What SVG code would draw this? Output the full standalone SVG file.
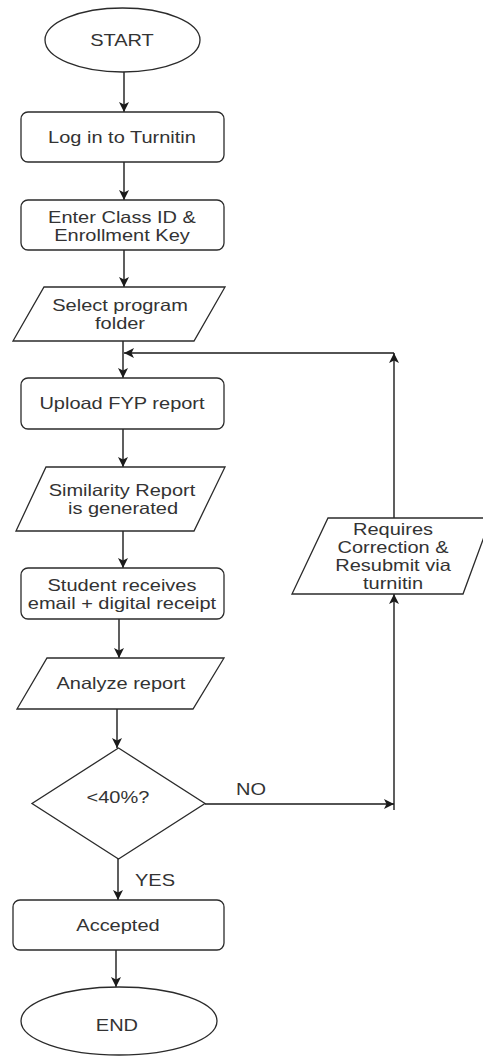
<svg xmlns="http://www.w3.org/2000/svg" width="483" height="1063" viewBox="0 0 483 1063">
<defs>
<marker id="arr" viewBox="0 0 10 10" refX="10" refY="5" markerWidth="10" markerHeight="10" markerUnits="userSpaceOnUse" orient="auto">
<path d="M0,0 L10,5 L0,10 L2.5,5 z" fill="#1a1a1a"/>
</marker>
<style>
.shape{fill:#ffffff;stroke:#2b2b2b;stroke-width:1.3}
.edge{fill:none;stroke:#1a1a1a;stroke-width:1.4}
text{font-family:"Liberation Sans",Arial,sans-serif;font-size:16.3px;fill:#333333;text-anchor:middle}
</style>
</defs>
<rect width="483" height="1063" fill="#ffffff"/>
<g id="connectors">
<line class="edge" x1="124" y1="72" x2="124" y2="112" marker-end="url(#arr)"/>
<line class="edge" x1="124" y1="162" x2="124" y2="200" marker-end="url(#arr)"/>
<line class="edge" x1="124" y1="250" x2="124" y2="287" marker-end="url(#arr)"/>
<line class="edge" x1="123" y1="341" x2="123" y2="378" marker-end="url(#arr)"/>
<line class="edge" x1="123" y1="429" x2="123" y2="467" marker-end="url(#arr)"/>
<line class="edge" x1="123" y1="531" x2="123" y2="568" marker-end="url(#arr)"/>
<line class="edge" x1="119" y1="619" x2="119" y2="658" marker-end="url(#arr)"/>
<line class="edge" x1="117" y1="709" x2="117" y2="748" marker-end="url(#arr)"/>
<line class="edge" x1="118" y1="859" x2="118" y2="900" marker-end="url(#arr)"/>
<line class="edge" x1="116" y1="950" x2="116" y2="987" marker-end="url(#arr)"/>
<line class="edge" x1="205" y1="804" x2="394" y2="804" marker-end="url(#arr)"/>
<line class="edge" x1="394" y1="810" x2="394" y2="594" marker-end="url(#arr)"/>
<line class="edge" x1="394" y1="518" x2="394" y2="353" marker-end="url(#arr)"/>
<line class="edge" x1="394" y1="353" x2="124" y2="353" marker-end="url(#arr)"/>
<text x="251" y="795" transform="matrix(1.227 0 0 1 -57 0)">NO</text>
<text x="155" y="886" transform="matrix(1.227 0 0 1 -35.2 0)">YES</text>
</g>
<g id="start">
<ellipse class="shape" cx="122.5" cy="40" rx="77.5" ry="32"/>
<text x="122" y="46" transform="matrix(1.227 0 0 1 -27.7 0)">START</text>
</g>
<g id="login">
<rect class="shape" x="21" y="112" width="203" height="50" rx="7"/>
<text x="122" y="143" transform="matrix(1.227 0 0 1 -27.7 0)">Log in to Turnitin</text>
</g>
<g id="enter">
<rect class="shape" x="21" y="200" width="203" height="50" rx="7"/>
<text x="122" y="223" transform="matrix(1.227 0 0 1 -27.7 0)">Enter Class ID &amp;</text>
<text x="122" y="241" transform="matrix(1.227 0 0 1 -27.7 0)">Enrollment Key</text>
</g>
<g id="select">
<polygon class="shape" points="44,287 225,287 194,341 13,341"/>
<text x="120" y="311" transform="matrix(1.227 0 0 1 -27.2 0)">Select program</text>
<text x="120" y="329" transform="matrix(1.227 0 0 1 -27.2 0)">folder</text>
</g>
<g id="upload">
<rect class="shape" x="21" y="378" width="203" height="51" rx="7"/>
<text x="122" y="409" transform="matrix(1.227 0 0 1 -27.7 0)">Upload FYP report</text>
</g>
<g id="similarity">
<polygon class="shape" points="46,467 225,467 194,531 16,531"/>
<text x="122" y="496" transform="matrix(1.227 0 0 1 -27.7 0)">Similarity Report</text>
<text x="123" y="514" transform="matrix(1.227 0 0 1 -27.9 0)">is generated</text>
</g>
<g id="student">
<rect class="shape" x="21" y="568" width="203" height="51" rx="7"/>
<text x="122" y="591" transform="matrix(1.227 0 0 1 -27.7 0)">Student receives</text>
<text x="122" y="609" transform="matrix(1.227 0 0 1 -27.7 0)">email + digital receipt</text>
</g>
<g id="analyze">
<polygon class="shape" points="47,658 224,658 193,709 17,709"/>
<text x="121" y="689" transform="matrix(1.227 0 0 1 -27.5 0)">Analyze report</text>
</g>
<g id="decision">
<polygon class="shape" points="118.5,748 205,803.5 118.5,859 32,803.5"/>
<text x="118" y="803" transform="matrix(1.227 0 0 1 -26.8 0)">&lt;40%?</text>
</g>
<g id="accepted">
<rect class="shape" x="13" y="900" width="211" height="50" rx="7"/>
<text x="118" y="931" transform="matrix(1.227 0 0 1 -26.8 0)">Accepted</text>
</g>
<g id="end">
<ellipse class="shape" cx="119" cy="1021" rx="98" ry="34"/>
<text x="117" y="1031" transform="matrix(1.227 0 0 1 -26.6 0)">END</text>
</g>
<g id="requires">
<polygon class="shape" points="328,518 491,518 463,594 292,594"/>
<text x="393" y="535" transform="matrix(1.227 0 0 1 -89.2 0)">Requires</text>
<text x="393" y="553" transform="matrix(1.227 0 0 1 -89.2 0)">Correction &amp;</text>
<text x="393" y="571" transform="matrix(1.227 0 0 1 -89.2 0)">Resubmit via</text>
<text x="393" y="589" transform="matrix(1.227 0 0 1 -89.2 0)">turnitin</text>
</g>
</svg>
